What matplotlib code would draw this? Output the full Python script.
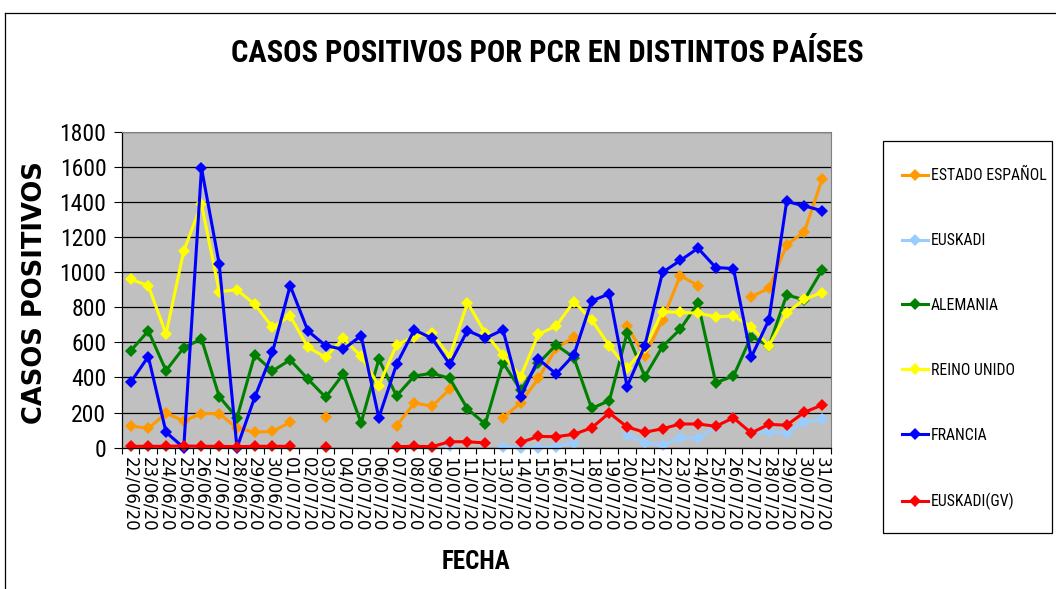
import matplotlib
matplotlib.use("Agg")
import matplotlib.pyplot as plt
from matplotlib.patches import Rectangle
import numpy as np

nan = np.nan

fechas = ["22/06/20", "23/06/20", "24/06/20", "25/06/20", "26/06/20", "27/06/20",
          "28/06/20", "29/06/20", "30/06/20", "01/07/20", "02/07/20", "03/07/20",
          "04/07/20", "05/07/20", "06/07/20", "07/07/20", "08/07/20", "09/07/20",
          "10/07/20", "11/07/20", "12/07/20", "13/07/20", "14/07/20", "15/07/20",
          "16/07/20", "17/07/20", "18/07/20", "19/07/20", "20/07/20", "21/07/20",
          "22/07/20", "23/07/20", "24/07/20", "25/07/20", "26/07/20", "27/07/20",
          "28/07/20", "29/07/20", "30/07/20", "31/07/20"]

estado_espanol = [124, 110, 196, 153, 194, 194, 112, 88, 93, 144, nan, 175,
                  nan, nan, nan, 124, 255, 236, 333, nan, nan, 170, 256, 395,
                  566, 629, nan, nan, 693, 522, 728, 980, 923, nan, nan, 860,
                  908, 1155, 1231, 1529]

euskadi = [nan, nan, nan, nan, nan, nan, nan, nan, nan, nan, nan, nan,
           nan, nan, nan, nan, nan, nan, 10, nan, nan, 5, 0, 0,
           6, 28, nan, nan, 72, 28, 15, 57, 54, 120, 168, 84,
           90, 86, 145, 162]

alemania = [551, 665, 439, 570, 619, 291, 170, 528, 437, 500, 391, 287,
            420, 141, 504, 295, 408, 424, 395, 221, 135, 484, 329, 481,
            585, 513, 224, 268, 652, 405, 576, 675, 823, 370, 408, 633,
            580, 870, 842, 1012]

reino_unido = [959, 923, 648, 1121, 1387, 889, 899, 817, 686, 750, 572, 515,
               623, 520, 353, 585, 633, 652, 519, 826, 652, 528, 405, 646,
               693, 832, 728, 580, 452, 570, 775, 770, 766, 746, 750, 689,
               580, 766, 846, 883]

francia = [372, 519, 88, 0, 1592, 1045, 0, 287, 543, 923, 665, 581,
           560, 638, 171, 475, 671, 623, 475, 667, 623, 671, 291, 505,
           420, 528, 836, 876, 348, 581, 999, 1066, 1136, 1026, 1020, 515,
           728, 1402, 1377, 1349]

euskadi_gv = [8, 8, 8, 10, 8, 8, 6, 8, 8, 8, nan, 6,
              nan, nan, nan, 6, 8, 6, 34, 34, 27, nan, 30, 64,
              63, 76, 113, 198, 118, 88, 108, 135, 135, 122, 170, 84,
              133, 128, 202, 243]

series = [("ESTADO ESPAÑOL", estado_espanol, "#FF9900"),
          ("EUSKADI", euskadi, "#99CCFF"),
          ("ALEMANIA", alemania, "#008000"),
          ("REINO UNIDO", reino_unido, "#FFFF00"),
          ("FRANCIA", francia, "#0000FF"),
          ("EUSKADI(GV)", euskadi_gv, "#FF0000")]

narrow = ["Roboto Condensed", "Noto Sans Condensed", "Roboto"]

W, H = 1056, 589
fig = plt.figure(figsize=(W / 100, H / 100), dpi=100)
fig.patch.set_facecolor("white")

# zona del grafico (en pixeles de la imagen)
x0, x1, ytop, ybot = 121.7, 831.0, 131.6, 447.7
ax = fig.add_axes([x0 / W, 1 - ybot / H, (x1 - x0) / W, (ybot - ytop) / H])
ax.set_facecolor("#C0C0C0")

x = np.arange(len(fechas))
for nombre, valores, color in series:
    ax.plot(x, valores, color=color, lw=2.2, marker="D", ms=6.3,
            markeredgewidth=0, label=nombre, clip_on=False)

ax.set_xlim(-0.5, len(fechas) - 0.5)
ax.set_ylim(0, 1800)
ax.set_yticks(np.arange(0, 1801, 200))
ax.yaxis.grid(True, color="black", lw=0.9)
ax.set_axisbelow(True)

# marcas entre categorias, etiquetas en el centro
ax.set_xticks(np.arange(-0.5, len(fechas), 1))
ax.set_xticklabels([])
ax.set_xticks(x, minor=True)
ax.set_xticklabels(fechas, minor=True, rotation=-90, fontsize=12,
                   family="DejaVu Sans")
ax.tick_params(axis="x", which="major", direction="out", length=4.5, width=0.8)
ax.tick_params(axis="x", which="minor", length=0, pad=7)
ax.tick_params(axis="y", direction="out", length=6, width=0.8, pad=5)
for lab in ax.get_yticklabels():
    lab.set_family(narrow)
    lab.set_fontstretch("condensed")
    lab.set_fontsize(17)

for s in ["left", "bottom"]:
    ax.spines[s].set_color("black")
    ax.spines[s].set_linewidth(0.9)
for s in ["top", "right"]:
    ax.spines[s].set_color("#808080")
    ax.spines[s].set_linewidth(0.8)

fig.text(547 / W, 1 - 62 / H, "CASOS POSITIVOS POR PCR EN DISTINTOS PAÍSES",
         ha="center", va="baseline", fontsize=22, fontweight="bold",
         fontstretch="condensed", family=narrow)
fig.text(476 / W, 1 - 569 / H, "FECHA", ha="center", va="baseline",
         fontsize=18, fontweight="bold", fontstretch="condensed", family=narrow)
fig.text(35.5 / W, 1 - 293 / H, "CASOS POSITIVOS", ha="center", va="center",
         rotation=90, fontsize=18.5, fontweight="bold", family="DejaVu Sans")

# leyenda sin marco propio; el marco se dibuja aparte
leg = fig.legend(loc="upper left",
                 bbox_to_anchor=(902 / W, 1 - 168 / H),
                 frameon=False, ncol=1,
                 prop={"family": narrow, "size": 11.3, "stretch": "condensed"},
                 handlelength=1.65, handletextpad=0.2, labelspacing=3.18,
                 borderpad=0, borderaxespad=0)
fig.add_artist(Rectangle((883 / W, 1 - 533 / H), (1052 - 883) / W, (533 - 141) / H,
                         transform=fig.transFigure, facecolor="none",
                         edgecolor="black", lw=0.9))

# marco exterior del grafico
fig.add_artist(plt.Line2D([4.5 / W, 4.5 / W], [0, 1 - 12.5 / H], color="black", lw=0.9))
fig.add_artist(plt.Line2D([4.5 / W, 1], [1 - 12.5 / H, 1 - 12.5 / H], color="black", lw=0.9))

fig.savefig("out.png", dpi=100)
